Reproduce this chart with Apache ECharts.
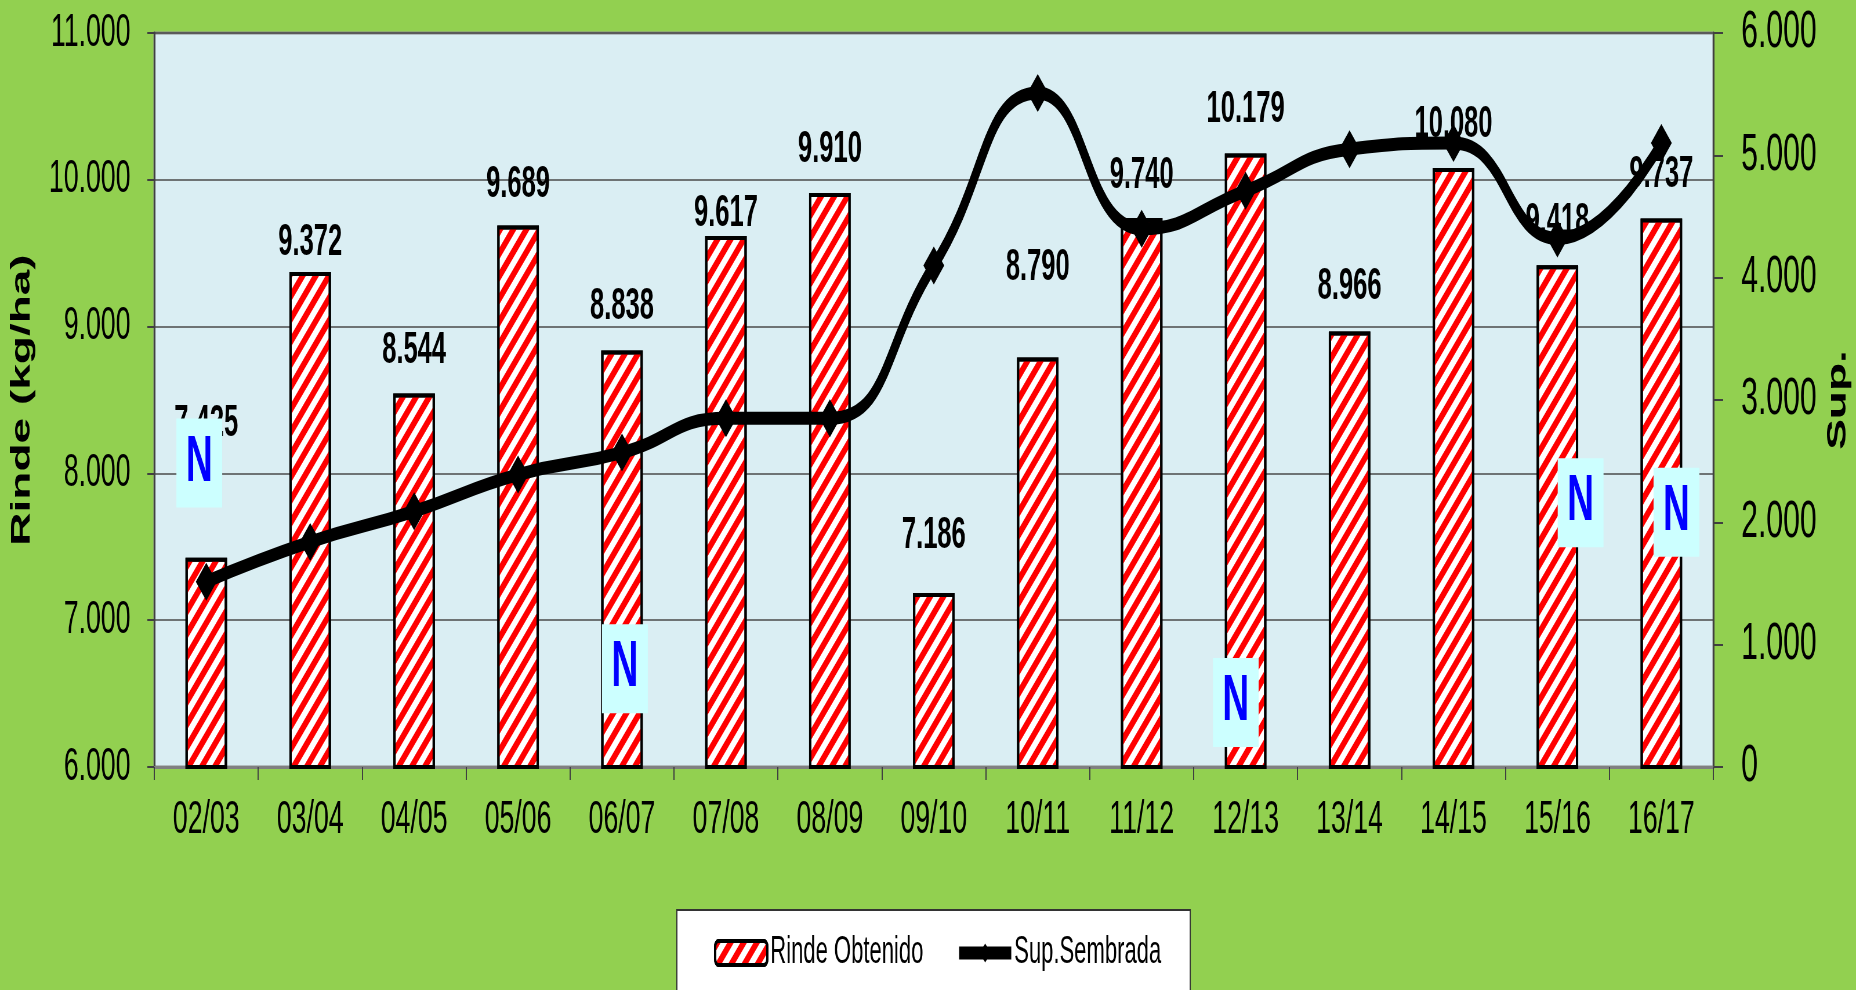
<!DOCTYPE html>
<html>
<head>
<meta charset="utf-8">
<script src="https://cdn.jsdelivr.net/npm/echarts@6/dist/echarts.min.js"></script>
<style>
html, body { margin: 0; padding: 0; overflow: hidden; background: #92D050; }
/* el gráfico original está comprimido a lo ancho: se dibuja ancho y se achica */
#chart { width: 3200px; height: 990px; transform: scaleX(0.58); transform-origin: 0 0; }
</style>
</head>
<body>
<div id="chart"></div>
<script>
var campanias = ['02/03', '03/04', '04/05', '05/06', '06/07', '07/08', '08/09', '09/10',
    '10/11', '11/12', '12/13', '13/14', '14/15', '15/16', '16/17'];
var rinde = [7425, 9372, 8544, 9689, 8838, 9617, 9910, 7186, 8790, 9740, 10179, 8966, 10080, 9418, 9737];
var supSembrada = [1515, 1840, 2090, 2390, 2570, 2850, 2850, 4100, 5510, 4400, 4710, 5050, 5100, 4320, 5100];

// campañas marcadas con "N" y altura (eje Rinde) de cada cartel
var campaniasN = ['02/03', '06/07', '12/13', '15/16', '16/17'];
var alturaN = [8070, 6670, 6440, 7800, 7735];

// separacion de cada etiqueta sobre su barra y corrimiento de los carteles
var distEtiqueta = [112, 7, 21, 19, 22, 0, 21, 35, 68, 20, 22, 23, 21, 21, 22];
var corrimientoN = [-12, 5, -17, 40, 26];

var fuente = "'Liberation Sans', Arial, sans-serif";

function miles(v) {
    return v === 0 ? '0' : (v / 1000).toFixed(3);
}

var myChart = echarts.init(document.getElementById('chart'));

var option = {
    animation: false,
    backgroundColor: '#92D050',
    textStyle: { fontFamily: fuente },
    grid: {
        left: 266, right: 243, top: 33, bottom: 223,
        show: true,
        backgroundColor: '#DAEEF3',
        borderColor: '#8a8a8a',
        borderWidth: 3
    },
    legend: {
        data: ['Rinde Obtenido', 'Sup.Sembrada'],
        left: 1167,
        top: 910,
        backgroundColor: '#fff',
        borderColor: '#333',
        borderWidth: 2,
        padding: [24, 50, 80, 64],
        itemWidth: 90,
        itemHeight: 24,
        itemGap: 55,
        itemStyle: { borderWidth: 'inherit' },
        lineStyle: { width: 'inherit' },
        textStyle: { fontSize: 38, color: '#000', fontFamily: fuente }
    },
    xAxis: {
        type: 'category',
        data: campanias,
        axisLine: { lineStyle: { color: '#808080', width: 3 } },
        axisTick: { show: true, length: 13, lineStyle: { color: '#404040', width: 2 } },
        axisLabel: { fontSize: 46, color: '#000', margin: 30, fontFamily: fuente }
    },
    yAxis: [
        {
            type: 'value',
            min: 6000, max: 11000, interval: 1000,
            position: 'left',
            name: 'Rinde (kg/ha)',
            nameLocation: 'middle',
            nameGap: 205,
            nameTextStyle: { fontSize: 46, fontWeight: 'bold', color: '#000', fontFamily: fuente },
            axisLine: { show: true, lineStyle: { color: '#404040', width: 3 } },
            axisTick: { show: true, length: 12, lineStyle: { color: '#404040', width: 2 } },
            axisLabel: { fontSize: 46, color: '#000', margin: 41, formatter: miles, fontFamily: fuente },
            splitLine: { show: true, lineStyle: { color: '#4a4a4a', width: 1.5 } }
        },
        {
            type: 'value',
            min: 0, max: 6000, interval: 1000,
            position: 'right',
            name: 'Sup.',
            nameLocation: 'middle',
            nameRotate: 90,
            nameGap: 192,
            nameTextStyle: { fontSize: 46, fontWeight: 'bold', color: '#000', fontFamily: fuente },
            axisLine: { show: true, lineStyle: { color: '#404040', width: 3 } },
            axisTick: { show: true, length: 17, lineStyle: { color: '#404040', width: 2 } },
            axisLabel: { fontSize: 52, color: '#000', margin: 48, formatter: miles, fontFamily: fuente },
            splitLine: { show: false }
        }
    ],
    series: [
        {
            name: 'Rinde Obtenido',
            type: 'bar',
            yAxisIndex: 0,
            barWidth: '40%',
            itemStyle: {
                color: '#fff',
                borderColor: '#000',
                borderWidth: 4,
                decal: {
                    symbol: 'rect',
                    symbolSize: 1,
                    color: '#ff0000',
                    dashArrayX: [1, 0],
                    dashArrayY: [7.5, 8],
                    rotation: -Math.PI / 4
                }
            },
            label: {
                show: true,
                position: 'top',
                fontSize: 44,
                fontWeight: 'bold',
                color: '#000',
                fontFamily: fuente,
                formatter: function (p) { return miles(p.value); }
            },
            data: rinde.map(function (v, i) {
                return { value: v, label: { distance: distEtiqueta[i] } };
            })
        },
        {
            name: 'Sup.Sembrada',
            type: 'line',
            yAxisIndex: 1,
            z: 3,
            smooth: true,
            symbol: 'diamond',
            symbolSize: [36, 38],
            lineStyle: { color: '#000', width: 13 },
            itemStyle: { color: '#000' },
            data: supSembrada
        },
        {
            name: 'N',
            type: 'scatter',
            yAxisIndex: 0,
            z: 4,
            silent: true,
            symbol: 'rect',
            symbolSize: [79, 89],
            itemStyle: { color: '#CCFFFF', opacity: 1 },
            label: {
                show: true,
                position: 'inside',
                formatter: 'N',
                color: '#0000FF',
                fontSize: 64,
                fontWeight: 'bold',
                fontFamily: fuente
            },
            data: campaniasN.map(function (c, i) {
                return { value: [c, alturaN[i]], symbolOffset: [corrimientoN[i], 0] };
            })
        }
    ]
};

myChart.setOption(option);
</script>
</body>
</html>
